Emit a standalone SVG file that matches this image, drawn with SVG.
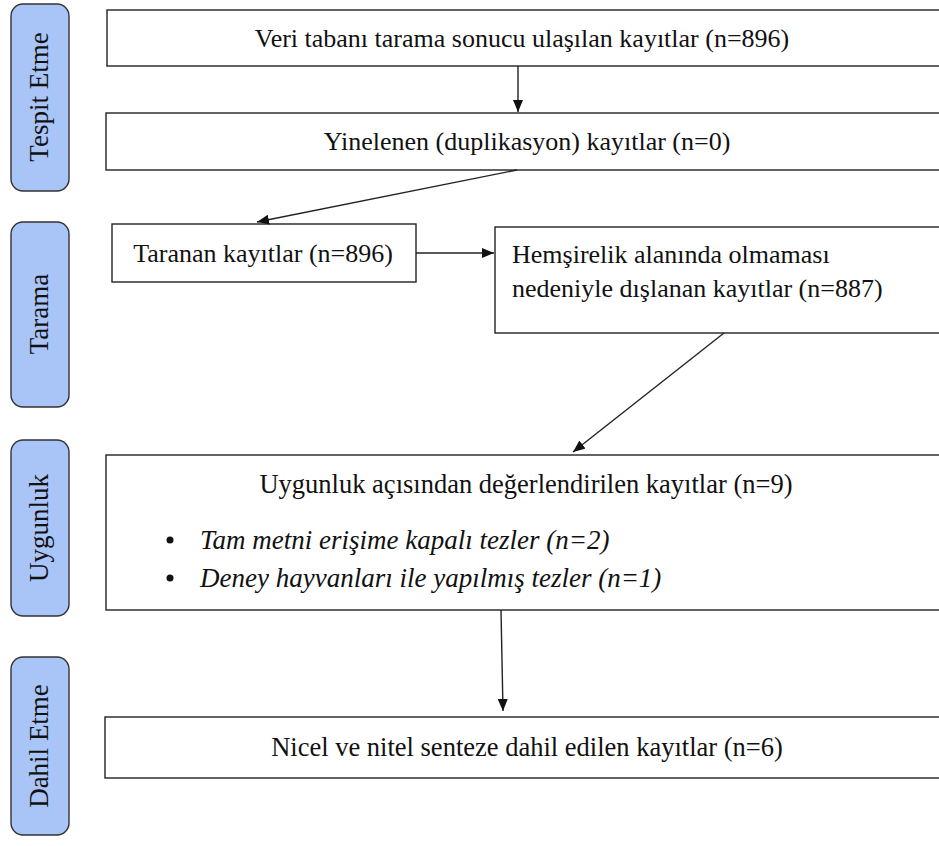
<svg xmlns="http://www.w3.org/2000/svg" width="939" height="846" viewBox="0 0 939 846">
<defs>
<style>
.lab{fill:#a9c4f7;stroke:#333;stroke-width:1.4}
.box{fill:#fff;stroke:#222;stroke-width:1.4}
.t{font-family:"Liberation Serif","Times New Roman",serif;font-size:26px;fill:#111}
.it{font-style:italic;font-size:27px}
.side{font-family:"Liberation Serif","Times New Roman",serif;font-size:27px;fill:#111}
.c{stroke:#222;stroke-width:1.4;fill:none;marker-end:url(#ah)}
</style>
<marker id="ah" viewBox="0 0 12 10" refX="12" refY="5" markerWidth="12" markerHeight="10" markerUnits="userSpaceOnUse" orient="auto">
<path d="M0,0 L12,5 L0,10 Z" fill="#111"/>
</marker>
</defs>
<rect width="939" height="846" fill="#fff"/>

<g id="lbl-tespit"><rect class="lab" x="11" y="4" width="58" height="187" rx="12"/><text class="side" transform="translate(48,97) rotate(-90)" text-anchor="middle">Tespit Etme</text></g>
<g id="lbl-tarama"><rect class="lab" x="11" y="222" width="58" height="185" rx="12"/><text class="side" transform="translate(48,314) rotate(-90)" text-anchor="middle">Tarama</text></g>
<g id="lbl-uygunluk"><rect class="lab" x="11" y="440" width="58" height="176" rx="12"/><text class="side" transform="translate(48,528) rotate(-90)" text-anchor="middle">Uygunluk</text></g>
<g id="lbl-dahil"><rect class="lab" x="11" y="657" width="58" height="178" rx="12"/><text class="side" transform="translate(48,746) rotate(-90)" text-anchor="middle">Dahil Etme</text></g>

<g id="n-veri"><rect class="box" x="107" y="10" width="840" height="56"/><text class="t" x="522" y="47" text-anchor="middle">Veri tabanı tarama sonucu ulaşılan kayıtlar (n=896)</text></g>
<g id="n-yinelenen"><rect class="box" x="106" y="113" width="840" height="57"/><text class="t" x="527" y="150" text-anchor="middle">Yinelenen (duplikasyon) kayıtlar (n=0)</text></g>
<g id="n-taranan"><rect class="box" x="112" y="224" width="304" height="58"/><text class="t" x="263" y="262" text-anchor="middle">Taranan kayıtlar (n=896)</text></g>
<g id="n-hemsirelik"><rect class="box" x="495" y="227" width="452" height="106"/><text class="t" x="512" y="263">Hemşirelik alanında olmaması</text><text class="t" x="512" y="297">nedeniyle dışlanan kayıtlar (n=887)</text></g>
<g id="n-uygunluk"><rect class="box" x="106" y="455" width="840" height="155"/><text class="t" x="526" y="493" text-anchor="middle" style="font-size:26.5px">Uygunluk açısından değerlendirilen kayıtlar (n=9)</text>
<circle cx="170" cy="540" r="3.5" fill="#111"/><text class="t it" x="200" y="549">Tam metni erişime kapalı tezler (n=2)</text>
<circle cx="170" cy="578" r="3.5" fill="#111"/><text class="t it" x="200" y="587">Deney hayvanları ile yapılmış tezler (n=1)</text></g>
<g id="n-nicel"><rect class="box" x="105" y="717" width="840" height="61"/><text class="t" x="527" y="756" text-anchor="middle" style="font-size:26.5px">Nicel ve nitel senteze dahil edilen kayıtlar (n=6)</text></g>

<g id="connectors">
<line class="c" x1="518" y1="66" x2="518" y2="112"/>
<line class="c" x1="517" y1="170" x2="257" y2="222"/>
<line class="c" x1="416" y1="253" x2="494" y2="253"/>
<line class="c" x1="724" y1="333" x2="573" y2="452"/>
<line class="c" x1="501" y1="610" x2="503" y2="711"/>
</g>
</svg>
